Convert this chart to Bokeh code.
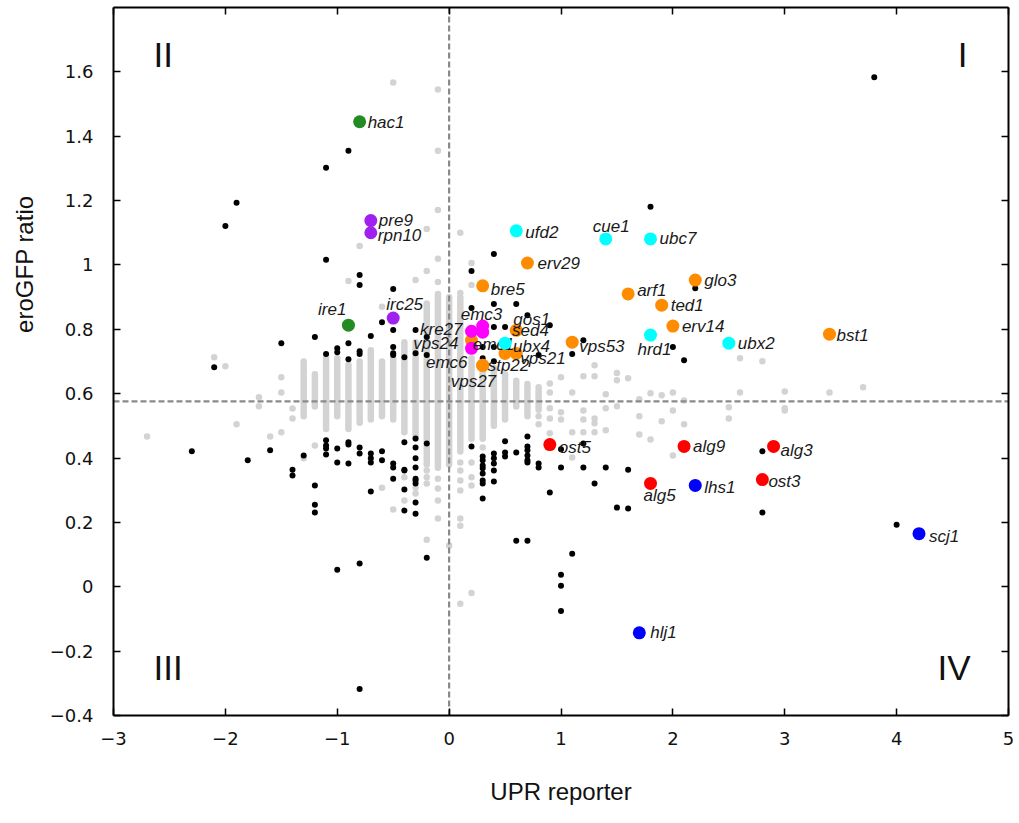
import math
from bokeh.plotting import figure
from bokeh.models import (Range1d, FixedTicker, LinearAxis, CustomJSTickFormatter,
                          Label, ColumnDataSource, Title)
from bokeh.core.properties import value
from bokeh.embed import file_html
from bokeh.resources import INLINE

# ---------------- data ----------------
X_RANGE = (-3, 5)
Y_RANGE = (-0.4, 1.8)
X_TICKS = [-3, -2, -1, 0, 1, 2, 3, 4, 5]
Y_TICKS = [-0.4, -0.2, 0, 0.2, 0.4, 0.6, 0.8, 1.0, 1.2, 1.4, 1.6]
X_CUT = 0.0
Y_CUT = 0.576

# dense gray columns (x, lowest, highest value of the dense run)
COL_X = [-1.3, -1.2, -1.1, -1.0, -0.9, -0.8, -0.7, -0.6, -0.5, -0.4, -0.3,
         -0.2, -0.1, 0.0, 0.1, 0.2, 0.3, 0.4, 0.5, 0.6, 0.7, 0.8]
COL_LO = [0.53, 0.56, 0.49, 0.53, 0.49, 0.51, 0.52, 0.53, 0.52, 0.48, 0.46,
          0.38, 0.37, 0.38, 0.42, 0.46, 0.46, 0.50, 0.52, 0.56, 0.53, 0.55]
COL_HI = [0.70, 0.66, 0.71, 0.71, 0.69, 0.70, 0.735, 0.70, 0.71, 0.76, 0.76,
          0.88, 0.91, 0.90, 0.90, 0.71, 0.68, 0.68, 0.66, 0.64, 0.63, 0.61]

# sparse gray points
GRAY_X = [-0.5, -0.1, -0.1, -0.1, -0.2, 0.1, -0.8, -0.1, -0.2, -0.9, -0.3, -0.1, 0.1, 0.2, 0.2, -0.6,
          -2.7, -2.1, -2.0, -1.9, -1.7, -1.7, -1.6, -1.5, -1.5, -1.5, -1.4, -1.4, -1.3, -1.2,
          0.1, 0.2, -0.2, 0.0, -0.1, -0.1, -0.1, -0.1, -0.2, -0.2, -0.2, -0.3, -0.3, -0.4, -0.4,
          -0.5, -0.6, 0.1, 0.1, 0.1, 0.1, 0.1, 0.1, 0.2, 0.2, 0.2, 0.3,
          1.3, 1.3, 1.2, 1.1, 1.0, 0.9, 0.9, 0.8, 1.5, 1.5, 1.6, 1.4, 1.8, 1.9, 2.0, 2.6, 2.6,
          2.8, 3.0, 3.4, 3.7, 1.4, 1.3, 1.3, 1.4, 1.5, 1.7, 1.7, 1.7, 1.8, 1.9, 2.0, 2.1, 2.1,
          2.5, 2.5, 3.0, 3.0, 2.0, 1.2, 1.2, 1.2, 1.1, 1.1, 1.0, 1.0, 0.9, 0.9, 0.9, 0.8, 0.8, 1.3]
GRAY_Y = [1.567, 1.545, 1.355, 1.171, 1.112, 1.10, 1.059, 1.019, 0.981, 0.950, 0.953, 0.947, 0.913, 1.006, 0.938, 0.870,
          0.467, 0.713, 0.685, 0.505, 0.589, 0.561, 0.467, 0.651, 0.604, 0.480, 0.554, 0.523, 0.399, 0.439,
          -0.053, -0.019, 0.146, 0.128, 0.336, 0.305, 0.268, 0.212, 0.361, 0.340, 0.321, 0.290, 0.308, 0.340, 0.268,
          0.240, 0.308, 0.386, 0.361, 0.330, 0.299, 0.212, 0.190, 0.386, 0.340, 0.315, 0.433,
          0.688, 0.654, 0.654, 0.604, 0.651, 0.632, 0.604, 0.620, 0.664, 0.642, 0.648, 0.598, 0.601, 0.595, 0.604, 0.710, 0.604,
          0.701, 0.607, 0.604, 0.620, 0.555, 0.523, 0.508, 0.486, 0.561, 0.583, 0.530, 0.473, 0.458, 0.514, 0.548, 0.579, 0.505,
          0.558, 0.523, 0.555, 0.548, 0.408, 0.548, 0.520, 0.480, 0.480, 0.402, 0.542, 0.520, 0.555, 0.523, 0.477, 0.530, 0.505, 0.480]

# black (significant, unlabeled) points
BLACK_X = [-0.9, -1.1, -1.9, -2.0, -1.1, -0.8, -0.8, -0.5,
           0.4, 0.2, 0.4, 0.6, 0.2, 0.7, -0.6, -1.2,
           -1.5, -0.9, -0.7, -0.5, -0.3, -0.2, -1.1, -1.0,
           -1.0, -0.9, -0.8, -0.8, -0.5, -0.5, -0.5, -0.4,
           -0.3, -0.2, -2.1, 0.4, 0.5, 0.9, 0.3, 0.4,
           0.3, 0.4, 0.8, 1.1, 1.2, 1.8, 2.2, 2.0,
           2.1, 3.8,
           -2.3, -1.8, -1.6, -1.4, -1.4, -1.3, -1.2, -1.2,
           -1.2, -1.1, -1.1, -1.1, -1.1, -1.0, -1.0, -0.9,
           -0.9, -0.9, -0.8, -0.8, -0.7, -0.7, -0.7, -0.7,
           -0.6, -0.6, -0.5, -0.5, -0.5, -0.4, -0.4, -0.4,
           -0.4, -0.4, -0.3, -0.3, -0.3, -0.3, -0.3, -0.3,
           -0.3, -0.3, -0.3, -0.2, -0.2, -1.0, -0.8, -0.8,
           0.2, 0.3, 0.3, 0.3, 0.3, 0.3, 0.3, 0.3,
           0.3, 0.4, 0.4, 0.4, 0.4, 0.4, 0.5, 0.5,
           0.5, 0.6, 0.7, 0.7, 0.7, 0.7, 0.7, 0.7,
           0.8, 0.8, 0.9, 1.0, 1.0, 1.2, 1.2, 1.3,
           1.4, 1.6, 1.5, 1.6, 0.6, 0.7, 1.1, 1.0,
           1.0, 1.0, 2.8, 2.8, 4.0]
BLACK_Y = [1.355, 1.302, 1.193, 1.121, 1.016, 0.969, 0.938, 0.925,
           1.034, 0.981, 0.879, 0.879, 0.866, 0.844, 0.822, 0.776,
           0.757, 0.757, 0.779, 0.798, 0.798, 0.776, 0.723, 0.741,
           0.729, 0.707, 0.732, 0.723, 0.745, 0.726, 0.720, 0.713,
           0.726, 0.720, 0.682, 0.807, 0.807, 0.813, 0.745, 0.745,
           0.710, 0.701, 0.720, 0.723, 0.766, 1.181, 0.928, 0.745,
           0.704, 1.583,
           0.421, 0.393, 0.424, 0.364, 0.346, 0.408, 0.315, 0.255,
           0.231, 0.455, 0.439, 0.430, 0.411, 0.430, 0.386, 0.449,
           0.442, 0.383, 0.433, 0.414, 0.414, 0.399, 0.386, 0.296,
           0.421, 0.393, 0.383, 0.371, 0.336, 0.449, 0.364, 0.361,
           0.302, 0.237, 0.461, 0.433, 0.399, 0.371, 0.336, 0.330,
           0.321, 0.262, 0.227, 0.445, 0.090, 0.053, 0.072, -0.318,
           0.436, 0.405, 0.393, 0.377, 0.368, 0.352, 0.330, 0.321,
           0.274, 0.414, 0.399, 0.383, 0.361, 0.327, 0.452, 0.417,
           0.405, 0.417, 0.467, 0.436, 0.424, 0.408, 0.393, 0.386,
           0.383, 0.371, 0.293, 0.427, 0.371, 0.445, 0.371, 0.321,
           0.371, 0.364, 0.246, 0.243, 0.143, 0.143, 0.103, 0.037,
           0.003, -0.075, 0.421, 0.231, 0.193]

# highlighted gene groups
ORANGE_GENES = ["erv29", "bre5", "glo3", "arf1", "ted1", "erv14", "bst1", "vps53",
                "gos1", "sed4", "vps21", "stp22", "vps27", "vps24"]
ORANGE_X = [0.7, 0.3, 2.2, 1.6, 1.9, 2.0, 3.4, 1.1, 0.6, 0.5, 0.6, 0.3, 0.3, 0.2]
ORANGE_Y = [1.006, 0.935, 0.953, 0.910, 0.875, 0.810, 0.785, 0.760, 0.797, 0.725, 0.725, 0.688, 0.688, 0.766]

RED_GENES = ["ost5", "alg9", "alg3", "ost3", "alg5"]
RED_X = [0.9, 2.1, 2.9, 2.8, 1.8]
RED_Y = [0.442, 0.436, 0.436, 0.333, 0.321]

BLUE_GENES = ["lhs1", "scj1", "hlj1"]
BLUE_X = [2.2, 4.2, 1.7]
BLUE_Y = [0.315, 0.165, -0.143]

GREEN_GENES = ["hac1", "ire1"]
GREEN_X = [-0.8, -0.9]
GREEN_Y = [1.445, 0.813]

PURPLE_GENES = ["pre9", "rpn10", "irc25"]
PURPLE_X = [-0.7, -0.7, -0.5]
PURPLE_Y = [1.138, 1.100, 0.835]

MAGENTA_GENES = ["emc3", "emc1", "kre27", "emc6"]
MAGENTA_X = [0.3, 0.3, 0.2, 0.2]
MAGENTA_Y = [0.810, 0.791, 0.794, 0.741]

CYAN_GENES = ["ufd2", "cue1", "ubc7", "hrd1", "ubx2", "ubx4"]
CYAN_X = [0.6, 1.4, 1.8, 1.8, 2.5, 0.5]
CYAN_Y = [1.106, 1.081, 1.081, 0.782, 0.757, 0.757]

# label placement (pixel offsets from point, alignment)
LABEL_POS = {
    "hac1": (8, 1, "left"), "pre9": (8, 0, "left"), "rpn10": (7, 3, "left"),
    "ufd2": (9, 2, "left"), "ubc7": (9, 0, "left"), "ubx2": (9, 0, "left"),
    "erv29": (10, 0, "left"), "glo3": (9, 0, "left"), "arf1": (9, -3, "left"),
    "ted1": (9, 0, "left"), "erv14": (9, 0, "left"), "bst1": (7, 1, "left"),
    "vps53": (7, 4, "left"), "bre5": (8, 4, "left"), "gos1": (-3, -11, "left"),
    "sed4": (7, -23, "left"), "vps21": (4, 5, "left"), "stp22": (5, 0, "left"),
    "vps27": (-32, 16, "left"), "ost5": (9, 3, "left"), "alg9": (9, 0, "left"),
    "alg3": (7, 4, "left"), "ost3": (6, 2, "left"), "alg5": (-7, 12, "left"),
    "lhs1": (9, 2, "left"), "scj1": (10, 3, "left"), "hlj1": (11, 0, "left"),
    "cue1": (-13, -12, "left"), "hrd1": (-13, 14, "left"), "irc25": (-7, -14, "left"),
    "emc3": (-22, -12, "left"), "emc1": (-10, 12, "left"), "ubx4": (8, 3, "left"),
    "ire1": (-2, -16, "right"), "kre27": (-9, -2, "right"), "vps24": (-13, 3, "right"),
    "emc6": (-4, 14, "right"),
}

# ---------------- figure ----------------
p = figure(width=1019, height=823,
           x_range=Range1d(*X_RANGE), y_range=Range1d(*Y_RANGE),
           output_backend="svg", toolbar_location=None,
           x_axis_location=None, y_axis_location=None,
           min_border_left=113, min_border_right=11,
           min_border_top=7, min_border_bottom=108)
p.xgrid.visible = False
p.ygrid.visible = False
p.outline_line_color = None
p.background_fill_color = "white"
p.border_fill_color = "white"

num_fmt = CustomJSTickFormatter(code="""
const r = Math.round(tick * 10) / 10;
let s = (Math.abs(r - Math.round(r)) < 1e-9) ? String(Math.round(r)) : r.toFixed(1);
if (s === "-0") { s = "0"; }
return s.replace("-", "\\u2212");
""")

def make_axis(ticks, labelled):
    ax = LinearAxis(ticker=FixedTicker(ticks=ticks),
                    formatter=num_fmt if labelled else CustomJSTickFormatter(code="return '';"))
    ax.major_tick_in = 7
    ax.major_tick_out = 0
    ax.minor_tick_line_color = None
    ax.axis_line_color = "black"
    ax.axis_line_width = 2
    ax.major_tick_line_color = "black"
    ax.major_tick_line_width = 1.5
    if labelled:
        ax.major_label_text_font = "DejaVu Sans"
        ax.major_label_text_font_size = "18px"
        ax.major_label_text_color = "#111111"
    else:
        ax.major_label_text_font_size = "0px"
        ax.major_label_standoff = 0
    return ax

bottom = make_axis(X_TICKS, True)
bottom.major_label_standoff = 16
bottom.axis_label = "UPR reporter"
bottom.axis_label_text_font = "Liberation Sans"
bottom.axis_label_text_font_size = "24px"
bottom.axis_label_text_font_style = "normal"
bottom.axis_label_text_color = "#111111"
bottom.axis_label_standoff = 30
p.add_layout(bottom, "below")

left = make_axis(Y_TICKS, True)
left.major_label_standoff = 20
p.add_layout(left, "left")

p.add_layout(make_axis(X_TICKS, False), "above")
p.add_layout(make_axis(Y_TICKS, False), "right")

# y-axis title, placed where the reference shows it (upper part of the left side)
p.add_layout(Title(text="eroGFP ratio", align="right", offset=188, standoff=16,
                   vertical_align="middle",
                   text_font="Liberation Sans", text_font_size="24px",
                   text_font_style="normal", text_color="#111111"), "left")

# quadrant labels
for txt, qx, qy, al in [("II", 40, 661, "left"), ("I", 854, 661, "right"),
                        ("III", 40, 48, "left"), ("IV", 857, 48, "right")]:
    p.add_layout(Label(x=qx, y=qy, x_units="screen", y_units="screen", text=txt,
                       text_align=al, text_baseline="alphabetic",
                       text_font="Liberation Sans", text_font_size="35px",
                       text_color="#111111"))

# gray background points
p.segment(x0=COL_X, y0=COL_LO, x1=COL_X, y1=COL_HI, line_color="#d3d3d3",
          line_width=6.5, line_cap="round")
p.scatter(GRAY_X, GRAY_Y, size=6.5, fill_color="#d3d3d3", line_color=None)

# threshold lines
p.line(x=[X_CUT, X_CUT], y=list(Y_RANGE), line_color="#8a8a8a", line_width=2.2, line_dash="6 3")
p.line(x=list(X_RANGE), y=[Y_CUT, Y_CUT], line_color="#8a8a8a", line_width=2.2, line_dash="6 3")

# black points
p.scatter(BLACK_X, BLACK_Y, size=6, fill_color="black", line_color=None)

def draw_group(genes, xs, ys, color):
    p.scatter(xs, ys, size=13, fill_color=color, line_color=None)
    for align in ("left", "right"):
        idx = [i for i, g in enumerate(genes) if LABEL_POS[g][2] == align]
        if not idx:
            continue
        src = ColumnDataSource(dict(
            x=[xs[i] for i in idx], y=[ys[i] for i in idx], t=[genes[i] for i in idx],
            dx=[LABEL_POS[genes[i]][0] for i in idx], dy=[LABEL_POS[genes[i]][1] for i in idx]))
        p.text(x="x", y="y", text="t", x_offset="dx", y_offset="dy", source=src,
               text_align=align, text_baseline="middle",
               text_font=value("Liberation Sans"), text_font_style="italic",
               text_font_size="17px", text_color="#1a1a1a")

draw_group(ORANGE_GENES, ORANGE_X, ORANGE_Y, "#FF8C00")
draw_group(RED_GENES, RED_X, RED_Y, "#FF0000")
draw_group(BLUE_GENES, BLUE_X, BLUE_Y, "#0000FF")
draw_group(GREEN_GENES, GREEN_X, GREEN_Y, "#228B22")
draw_group(PURPLE_GENES, PURPLE_X, PURPLE_Y, "#A020F0")
draw_group(MAGENTA_GENES, MAGENTA_X, MAGENTA_Y, "#FF00FF")
draw_group(CYAN_GENES, CYAN_X, CYAN_Y, "#00FFFF")

open("out.html", "w").write(file_html(p, INLINE))
